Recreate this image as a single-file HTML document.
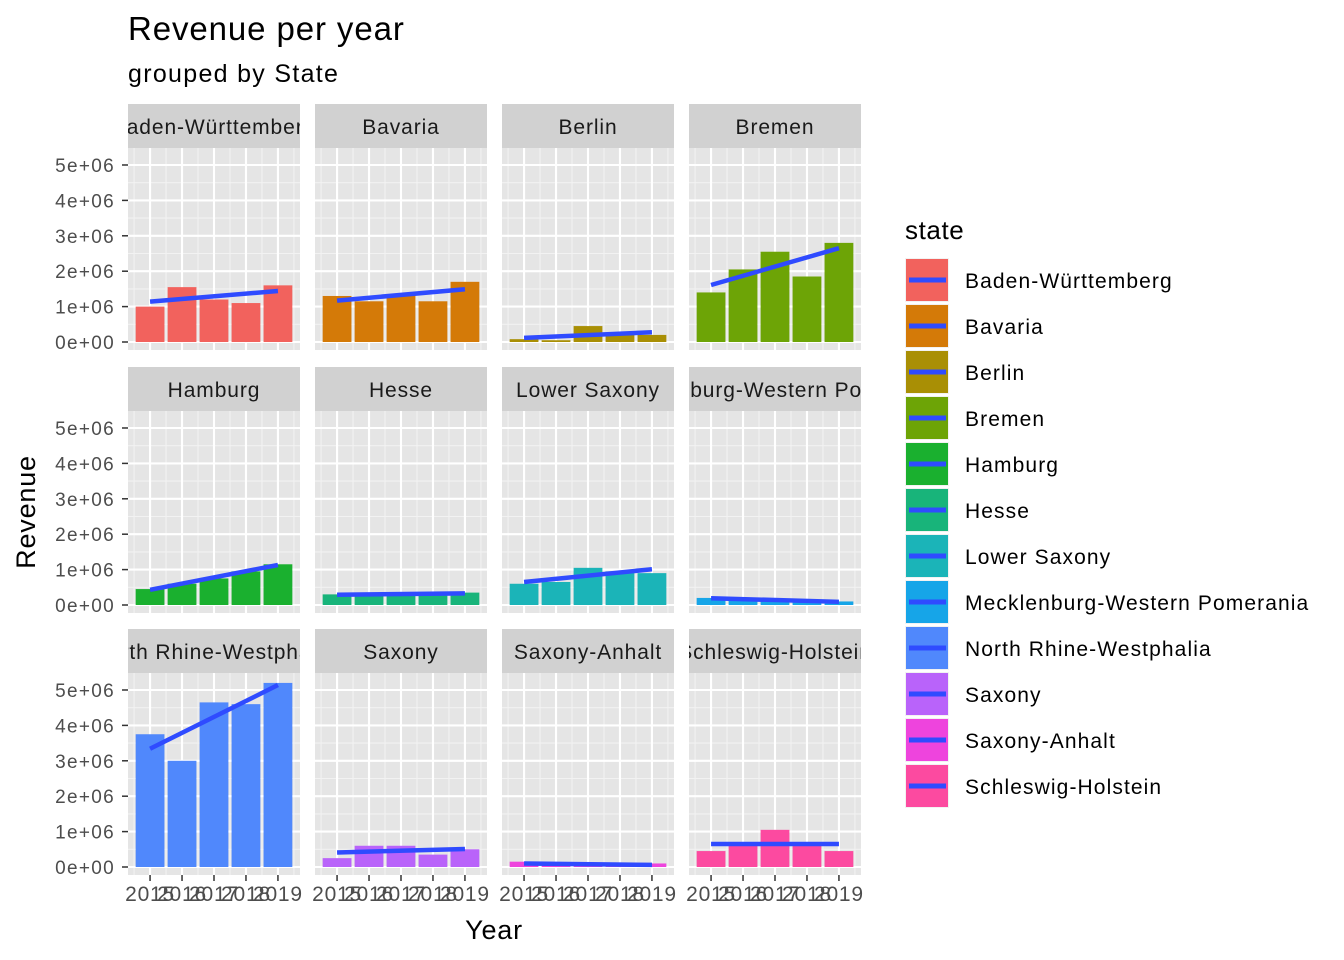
<!DOCTYPE html>
<html><head><meta charset="utf-8"><style>
html,body{margin:0;padding:0;background:#fff;}
svg{display:block;font-family:"Liberation Sans",Arial,sans-serif;}
</style></head><body>
<svg id="c" width="1344" height="960" xmlns="http://www.w3.org/2000/svg">
<text x="128" y="40" font-size="33" letter-spacing="0.9" fill="#000">Revenue per year</text>
<text x="128" y="82" font-size="25" letter-spacing="1.3" fill="#000">grouped by State</text>
<text x="494" y="939" font-size="27" letter-spacing="0.8" text-anchor="middle" fill="#000">Year</text>
<text x="0" y="0" font-size="27" letter-spacing="0.8" text-anchor="middle" fill="#000" transform="translate(35,512) rotate(-90)">Revenue</text>
<text x="905" y="239" font-size="26" letter-spacing="0.6" fill="#000">state</text>
<g id="panels"></g><g id="legend"></g>
</svg>
<script>
const states=["Baden-Württemberg","Bavaria","Berlin","Bremen","Hamburg","Hesse","Lower Saxony","Mecklenburg-Western Pomerania","North Rhine-Westphalia","Saxony","Saxony-Anhalt","Schleswig-Holstein"];
const years=[2015,2016,2017,2018,2019];
const revenue=[
[1.0e6,1.55e6,1.2e6,1.1e6,1.6e6],
[1.3e6,1.15e6,1.35e6,1.15e6,1.7e6],
[0.08e6,0.05e6,0.45e6,0.2e6,0.2e6],
[1.4e6,2.05e6,2.55e6,1.85e6,2.8e6],
[0.45e6,0.6e6,0.75e6,0.95e6,1.15e6],
[0.3e6,0.3e6,0.3e6,0.3e6,0.35e6],
[0.6e6,0.65e6,1.05e6,0.95e6,0.9e6],
[0.2e6,0.15e6,0.15e6,0.1e6,0.1e6],
[3.75e6,3.0e6,4.65e6,4.6e6,5.2e6],
[0.25e6,0.6e6,0.6e6,0.35e6,0.5e6],
[0.15e6,0.05e6,0.05e6,0.05e6,0.1e6],
[0.45e6,0.65e6,1.05e6,0.65e6,0.45e6]];
const colors=["#F2625D","#D47A08","#A98F05","#6DA406","#1AB02F","#18B47A","#1BB4B8","#16A5E8","#5088FC","#B963FA","#EE44DD","#FC4AA0"];
const yTicks=[0,1e6,2e6,3e6,4e6,5e6];
const yTickLabels=["0e+00","1e+06","2e+06","3e+06","4e+06","5e+06"];
const xTickLabels=["2015","2016","2017","2018","2019"];
const NS="http://www.w3.org/2000/svg";
function mk(tag,attrs,parent){const e=document.createElementNS(NS,tag);for(const k in attrs)e.setAttribute(k,attrs[k]);parent.appendChild(e);return e;}
const panelsG=document.getElementById('panels');
const colX=[128,315,502,689], PW=172;
const rowTop=[104,367,629], STRIP=44, PH=202;
const yMin=-0.226e6, yMax=5.48e6, xMin=2014.31, xMax=2019.69;
const LINE="#2F4BFF";
states.forEach((s,i)=>{
  const r=Math.floor(i/4), c=i%4;
  const px=colX[c], sy=rowTop[r], py=sy+STRIP;
  const X=v=>px+(v-xMin)/(xMax-xMin)*PW;
  const Y=v=>py+PH-(v-yMin)/(yMax-yMin)*PH;
  const g=mk('g',{},panelsG);
  
  
  const st=mk('rect',{x:px,y:sy,width:PW,height:STRIP,fill:'#D1D1D1'},g);
  
  
  const cp=mk('clipPath',{id:'cp'+i},g);mk('rect',{x:px,y:sy,width:PW,height:STRIP},cp);
  const stt=mk('text',{x:px+PW/2,y:sy+30,'font-size':21,'letter-spacing':0.9,'text-anchor':'middle',fill:'#1A1A1A','clip-path':'url(#cp'+i+')'},g);
  stt.textContent=s;
  
  
  const bg=mk('rect',{x:px,y:py,width:PW,height:PH,fill:'#E5E5E5'},g);
  
  
  for(let k=0;k<yTicks.length;k++){const v=yTicks[k]+0.5e6;if(v<yMax)mk('line',{x1:px,x2:px+PW,y1:Y(v),y2:Y(v),stroke:'#F2F2F2','stroke-width':1.1},g);}
  for(let k=0;k<years.length-1;k++){const v=years[k]+0.5;mk('line',{x1:X(v),x2:X(v),y1:py,y2:py+PH,stroke:'#F2F2F2','stroke-width':1.1},g);}
  mk('line',{x1:X(2014.5),x2:X(2014.5),y1:py,y2:py+PH,stroke:'#F2F2F2','stroke-width':1.1},g);
  mk('line',{x1:X(2019.5),x2:X(2019.5),y1:py,y2:py+PH,stroke:'#F2F2F2','stroke-width':1.1},g);
  yTicks.forEach(v=>mk('line',{x1:px,x2:px+PW,y1:Y(v),y2:Y(v),stroke:'#fff','stroke-width':2.1},g));
  years.forEach(v=>mk('line',{x1:X(v),x2:X(v),y1:py,y2:py+PH,stroke:'#fff','stroke-width':2.1},g));
  const bw=0.9*PW/(xMax-xMin);
  revenue[i].forEach((v,k)=>{
    const b=mk('rect',{x:X(years[k])-bw/2,y:Y(v),width:bw,height:Y(0)-Y(v),fill:colors[i]},g);
    
    
  });
  const n=years.length,mx=years.reduce((a,b)=>a+b)/n,my=revenue[i].reduce((a,b)=>a+b)/n;
  let sxy=0,sxx=0;years.forEach((x,k)=>{sxy+=(x-mx)*(revenue[i][k]-my);sxx+=(x-mx)*(x-mx);});
  const sl=sxy/sxx, f=x=>my+sl*(x-mx);
  const tl=mk('line',{x1:X(years[0]),y1:Y(f(years[0])),x2:X(years[n-1]),y2:Y(f(years[n-1])),stroke:LINE,'stroke-width':4.5},g);
  
  
  if(c===0){yTicks.forEach((v,k)=>{
    mk('line',{x1:px-6,x2:px,y1:Y(v),y2:Y(v),stroke:'#333','stroke-width':1.5},g);
    const t=mk('text',{x:px-13,y:Y(v)+7,'font-size':19,'letter-spacing':1.3,'text-anchor':'end',fill:'#4D4D4D'},g);t.textContent=yTickLabels[k];
    
    
  });}
  if(r===2){years.forEach((v,k)=>{
    mk('line',{x1:X(v),x2:X(v),y1:py+PH,y2:py+PH+6,stroke:'#333','stroke-width':1.5},g);
    const t=mk('text',{x:X(v),y:py+PH+26,'font-size':21,'letter-spacing':0.8,'text-anchor':'middle',fill:'#4D4D4D'},g);t.textContent=xTickLabels[k];
    
    
  });}
});
const lg=document.getElementById('legend');
states.forEach((s,i)=>{
  const y=258+i*46;
  const g=mk('g',{},lg);
  
  
  mk('rect',{x:905,y:y,width:44,height:44,fill:'#F2F2F2'},g);
  mk('rect',{x:906,y:y+1,width:42,height:42,fill:colors[i]},g);
  mk('line',{x1:909,x2:946,y1:y+22,y2:y+22,stroke:LINE,'stroke-width':5},g);
  const t=mk('text',{x:965,y:y+30,'font-size':21,'letter-spacing':1.1,fill:'#000'},g);t.textContent=s;
});
</script>
</body></html>
